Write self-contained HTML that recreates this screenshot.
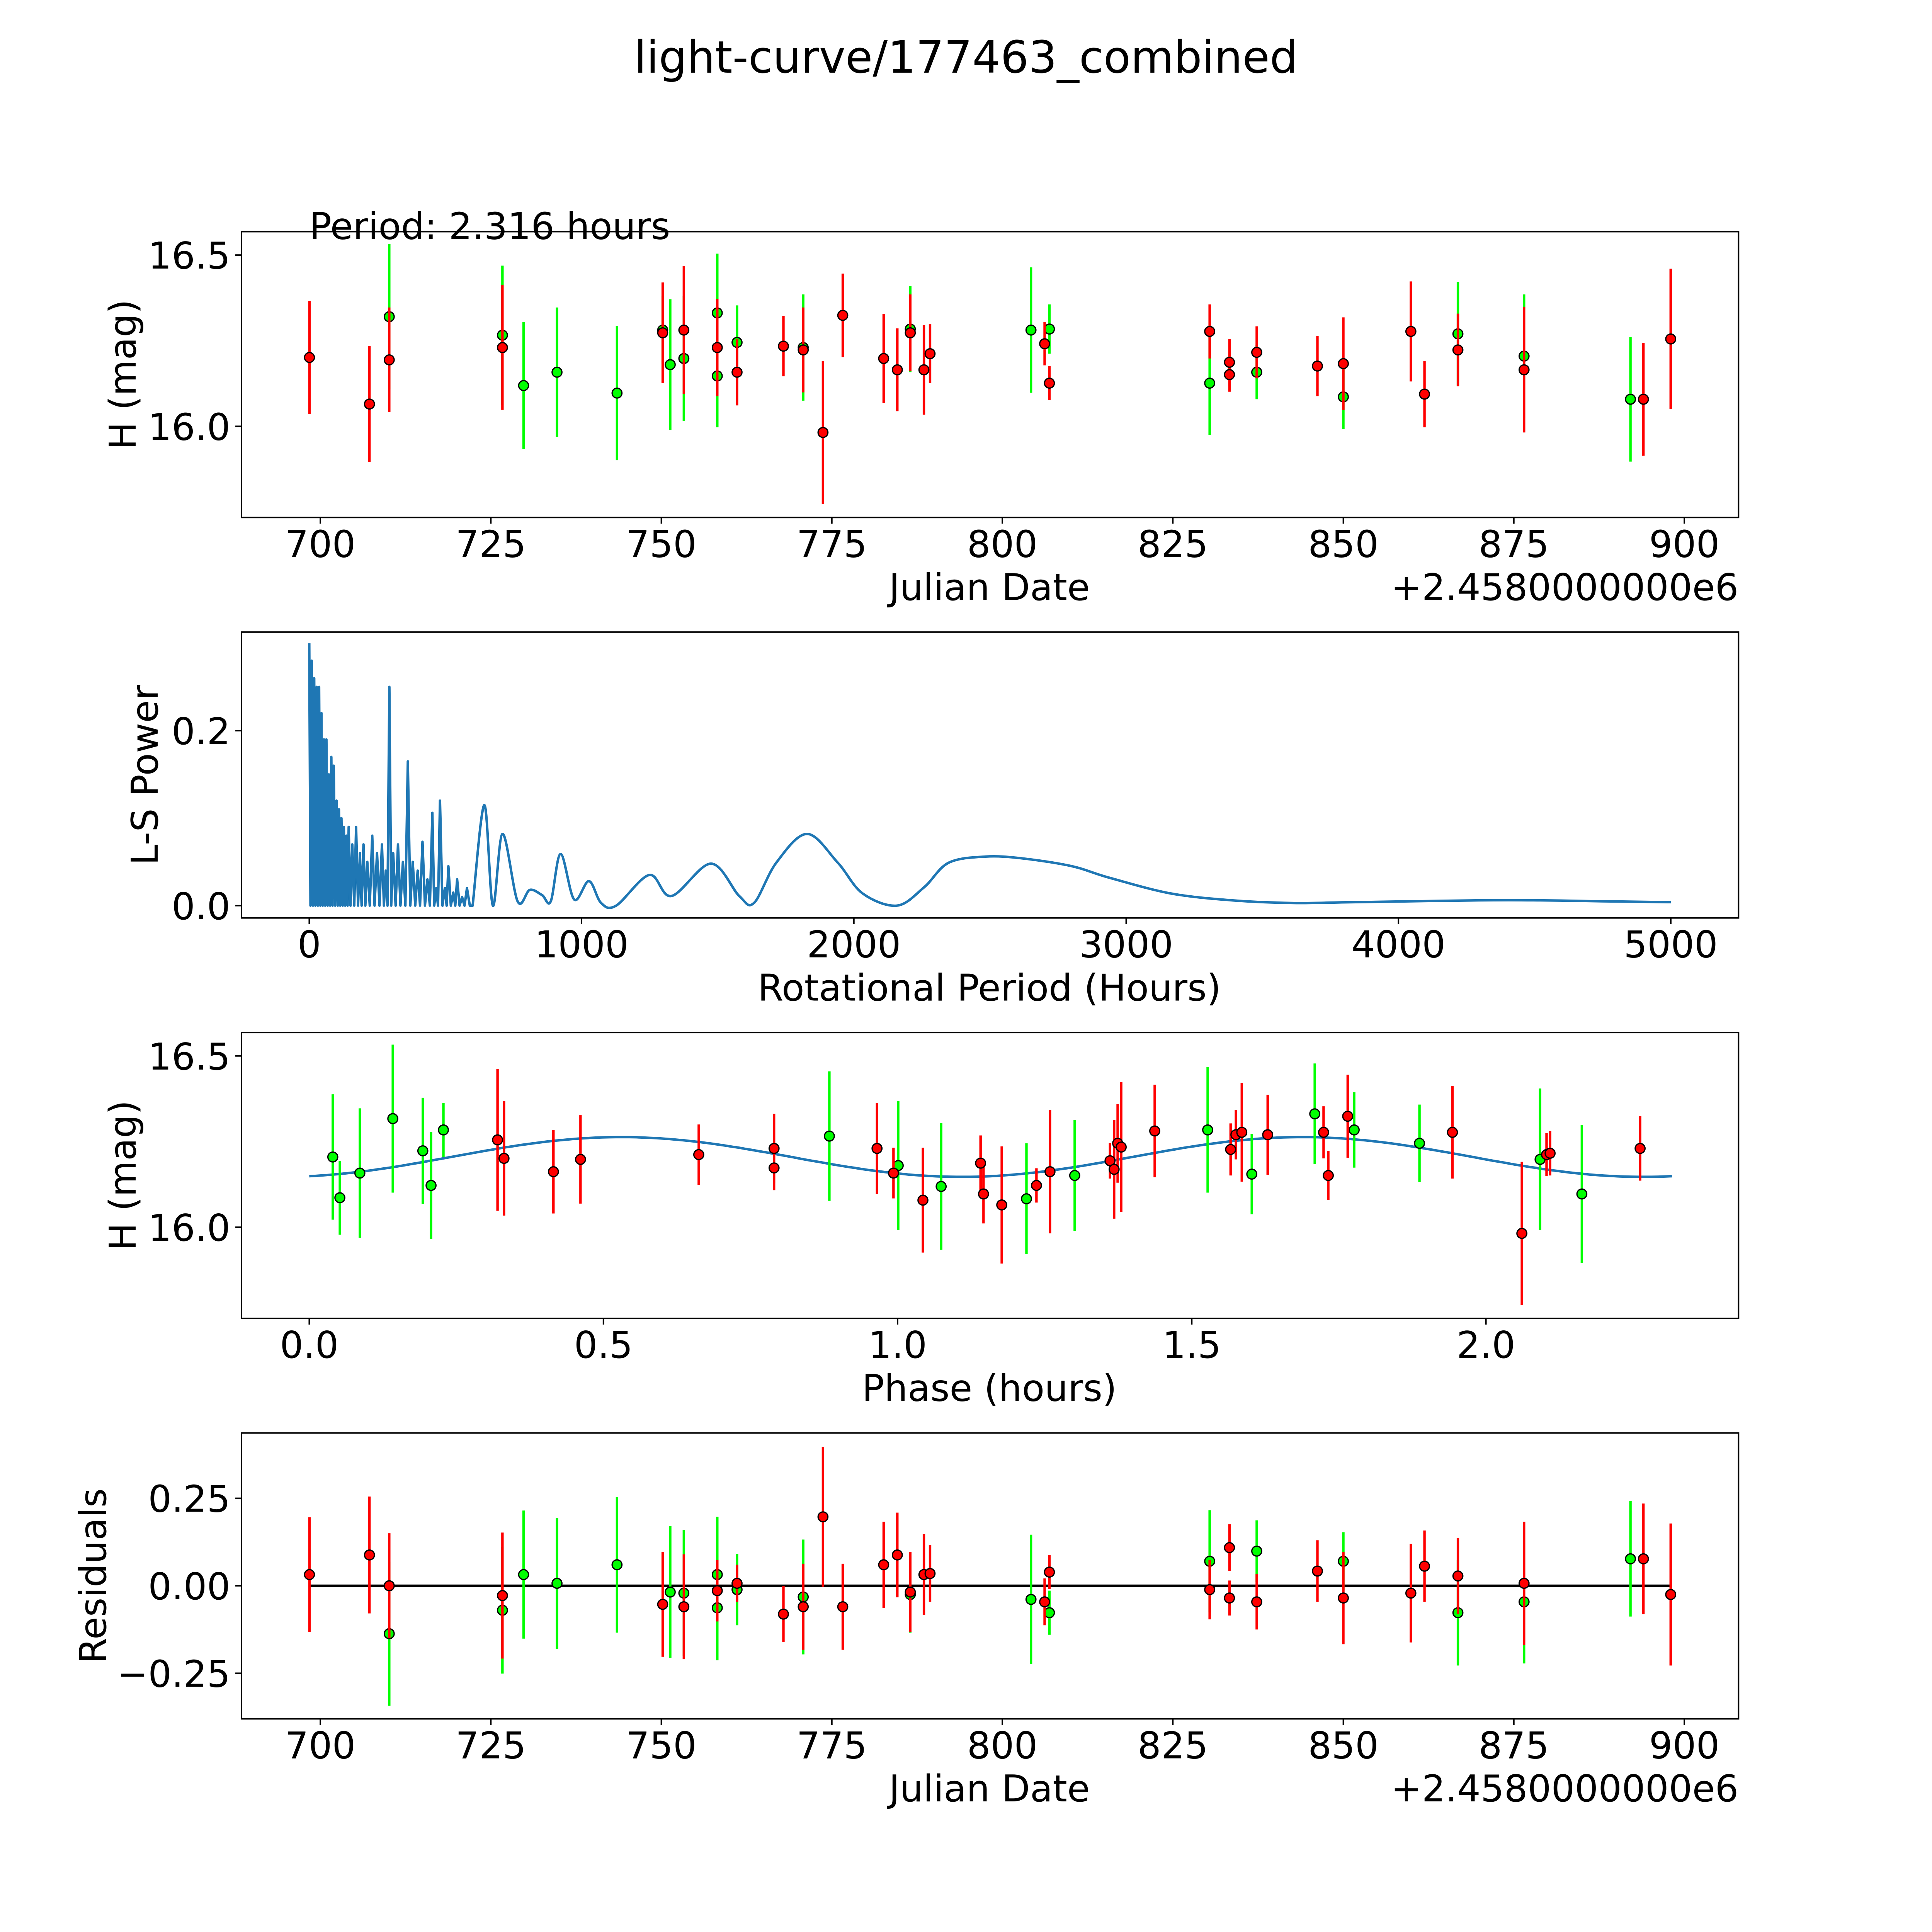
<!DOCTYPE html>
<html><head><meta charset="utf-8"><style>
html,body{margin:0;padding:0;background:#fff;overflow:hidden;width:100%;height:100%;}
svg{display:block;position:absolute;left:0;top:0;width:100vw;height:100vh;font-family:"DejaVu Sans","Liberation Sans",sans-serif;}
</style></head><body>
<svg id="fig" viewBox="0 0 1568 1568" preserveAspectRatio="none" xmlns="http://www.w3.org/2000/svg">
<rect x="0" y="0" width="1568" height="1568" fill="#fff"/>
<text x="784" y="59" font-size="36" text-anchor="middle">light-curve/177463_combined</text>
<g id="layer"></g>
</svg>
<script>
// ---------- DATA ----------
const lcRed = [[698.4,16.201,0.165],[707.2,16.065,0.169],[710.1,16.194,0.153],[726.7,16.230,0.182],[750.2,16.273,0.147],[753.3,16.281,0.187],[758.2,16.230,0.142],[761.1,16.158,0.097],[767.9,16.234,0.088],[770.8,16.223,0.124],[773.7,15.982,0.209],[776.6,16.324,0.122],[782.6,16.198,0.130],[784.6,16.165,0.121],[786.5,16.273,0.112],[788.5,16.165,0.131],[789.4,16.212,0.086],[806.2,16.241,0.063],[806.9,16.126,0.050],[830.4,16.277,0.079],[833.3,16.187,0.068],[833.3,16.151,0.050],[837.3,16.216,0.076],[846.2,16.176,0.088],[850.0,16.183,0.135],[859.9,16.277,0.146],[861.9,16.094,0.097],[866.8,16.223,0.106],[876.5,16.165,0.183],[894.0,16.079,0.165],[898.0,16.255,0.205]];
const lcGreen = [[710.1,16.320,0.212],[726.7,16.266,0.203],[729.8,16.119,0.185],[734.7,16.158,0.189],[743.5,16.097,0.196],[750.2,16.281,0.100],[751.3,16.180,0.191],[753.3,16.198,0.183],[758.2,16.331,0.173],[758.2,16.147,0.150],[761.1,16.245,0.108],[770.8,16.230,0.155],[786.5,16.284,0.126],[804.2,16.281,0.183],[806.9,16.284,0.072],[830.4,16.126,0.151],[837.3,16.158,0.079],[850.0,16.086,0.094],[866.8,16.270,0.151],[876.5,16.205,0.180],[892.1,16.079,0.182]];
const lsSpikes = [[0,.30],[9,.28],[18,.26],[27,.25],[36,.25],[45,.22],[54,.19],[63,.19],[72,.15],[81,.17],[90,.16],[100,.12],[109,.11],[118,.10],[127,.09],[136,.08],[145,.09],[158,.07],[172,.09],[186,.06],[199,.07],[213,.05],[231,.08],[249,.06],[267,.07],[281,.04],[294,.25],[308,.06],[326,.07],[344,.05],[362,.165],[380,.05],[398,.04],[416,.073],[434,.03],[452,.106],[466,.02],[480,.12],[498,.02],[511,.045],[529,.015],[543,.03],[561,.01],[579,.02]];
const lsSmooth = [[600,0],[643,.115],[674,0],[710,.082],[765,.005],[810,.018],[855,.012],[887,.005],[923,.059],[973,.007],[1027,.028],[1072,.003],[1127,0],[1249,.035],[1330,.011],[1475,.048],[1579,.011],[1633,.003],[1715,.049],[1828,.082],[1941,.049],[2032,.014],[2158,0],[2258,.021],[2348,.049],[2484,.056],[2620,.054],[2801,.045],[2937,.032],[3163,.014],[3389,.006],[3615,.003],[3842,.004],[4294,.006],[4520,.006],[4747,.005],[5000,.004]];
const phGreen = [[0.040,16.205,0.183],[0.052,16.086,0.108],[0.086,16.158,0.189],[0.142,16.317,0.216],[0.193,16.223,0.155],[0.207,16.122,0.156],[0.228,16.284,0.079],[0.884,16.266,0.189],[1.001,16.180,0.189],[1.074,16.119,0.185],[1.219,16.083,0.162],[1.301,16.151,0.162],[1.527,16.284,0.183],[1.602,16.155,0.117],[1.709,16.331,0.147],[1.776,16.284,0.110],[1.887,16.245,0.113],[2.092,16.198,0.207],[2.163,16.097,0.201]];
const phRed = [[0.320,16.255,0.207],[0.331,16.201,0.167],[0.415,16.162,0.122],[0.461,16.198,0.129],[0.662,16.212,0.088],[0.790,16.230,0.101],[0.790,16.173,0.065],[0.965,16.230,0.133],[0.993,16.158,0.074],[1.043,16.079,0.153],[1.141,16.187,0.081],[1.146,16.097,0.086],[1.177,16.065,0.171],[1.236,16.122,0.050],[1.259,16.162,0.180],[1.361,16.194,0.052],[1.368,16.169,0.144],[1.374,16.245,0.115],[1.380,16.234,0.189],[1.437,16.281,0.135],[1.566,16.227,0.076],[1.575,16.270,0.072],[1.585,16.277,0.144],[1.629,16.270,0.117],[1.724,16.277,0.076],[1.732,16.151,0.072],[1.765,16.324,0.121],[1.943,16.277,0.135],[2.061,15.982,0.209],[2.103,16.212,0.063],[2.109,16.216,0.065],[2.262,16.230,0.094]];
const fitParams = [16.205, 0.058, 0.53, 2.316];
const resRed = [[698.4,0.032,0.164],[707.2,0.088,0.167],[710.1,0.0,0.150],[726.7,-0.028,0.18],[750.2,-0.053,0.15],[753.3,-0.06,0.15],[758.2,-0.014,0.088],[761.1,0.007,0.053],[767.9,-0.081,0.08],[770.8,-0.06,0.123],[773.7,0.197,0.2],[776.6,-0.06,0.123],[782.6,0.06,0.123],[784.6,0.088,0.121],[786.5,-0.018,0.114],[788.5,0.032,0.116],[789.4,0.035,0.081],[806.2,-0.046,0.067],[806.9,0.039,0.049],[830.4,-0.011,0.085],[833.3,0.109,0.067],[833.3,-0.035,0.05],[837.3,-0.046,0.079],[846.2,0.042,0.088],[850.0,-0.035,0.132],[859.9,-0.021,0.141],[861.9,0.056,0.102],[866.8,0.028,0.109],[876.5,0.007,0.176],[894.0,0.077,0.158],[898.0,-0.025,0.203]];
const resGreen = [[710.1,-0.137,0.206],[726.7,-0.07,0.181],[729.8,0.032,0.183],[734.7,0.007,0.187],[743.5,0.06,0.194],[751.3,-0.018,0.188],[753.3,-0.021,0.18],[758.2,0.032,0.165],[758.2,-0.063,0.15],[761.1,-0.011,0.102],[770.8,-0.032,0.164],[786.5,-0.025,0.109],[804.2,-0.039,0.185],[806.9,-0.077,0.063],[830.4,0.070,0.146],[837.3,0.099,0.088],[850.0,0.07,0.083],[866.8,-0.077,0.151],[876.5,-0.046,0.176],[892.1,0.077,0.165]];
const jdTicks = [700,725,750,775,800,825,850,875,900];
const lcYTicks = [16.0,16.5];
const lsXTicks = [0,1000,2000,3000,4000,5000];
const lsYTicks = [0.0,0.2];
const phXTicks = [0.0,0.5,1.0,1.5,2.0];
const resYTicks = [-0.25,0.00,0.25];

// ---------- DRAWING ----------
const NS = "http://www.w3.org/2000/svg";
const layer = document.getElementById('layer');
function el(tag, attrs, parent, txt) {
  const e = document.createElementNS(NS, tag);
  for (const k in attrs) e.setAttribute(k, attrs[k]);
  if (txt !== undefined) e.textContent = txt;
  (parent || layer).appendChild(e);
  return e;
}
const xJD = v => 260 + (v - 700) * 5.535;
const yLC = v => 346 - (v - 16) * 278;
const xLS = v => 251 + v * 0.221;
const yLS = v => 735 - v * 710;
const xPH = v => 251 + v * 477.5;
const yPH = v => 996 - (v - 16) * 278;
const yRS = v => 1287 - v * 284;
const FS = 30;

function axes(name, top, xTicks, xs, xfmt, yTicks, ys, yfmt, xlabel, ylabel, ylabelX) {
  const g = el('g', {});
  
  
  const L = 196, B = top + 232;
  for (const t of xTicks) {
    const x = xs(t);
    const tk = el('line', {x1: x, x2: x, y1: B, y2: B + 5, stroke: '#000', 'stroke-width': 1.2}, g);
    
    
    const lb = el('text', {x: x, y: B + 32, 'font-size': FS, 'text-anchor': 'middle'}, g, xfmt(t));
    
    
  }
  for (const t of yTicks) {
    const y = ys(t);
    const tk = el('line', {x1: L - 5, x2: L, y1: y, y2: y, stroke: '#000', 'stroke-width': 1.2}, g);
    
    
    const lb = el('text', {x: L - 9, y: y + 11, 'font-size': FS, 'text-anchor': 'end'}, g, yfmt(t));
    
    
  }
  const xl = el('text', {x: 803, y: B + 67, 'font-size': FS, 'text-anchor': 'middle'}, g, xlabel);
  
  
  const yl = el('text', {x: ylabelX, y: top + 116, 'font-size': FS, 'text-anchor': 'middle', transform: `rotate(-90 ${ylabelX} ${top + 116})`}, g, ylabel);
  
  
  return g;
}
function frame(top) {
  const r = el('rect', {x: 196, y: top, width: 1215, height: 232, fill: 'none', stroke: '#000', 'stroke-width': 1.2});
  
  
}
function errPoints(data, xs, ys, color, name) {
  const g = el('g', {});
  
  
  for (const d of data) {
    const x = xs(d[0]);
    const eb = el('line', {x1: x, x2: x, y1: ys(d[1] + d[2]), y2: ys(d[1] - d[2]), stroke: color, 'stroke-width': 2}, g);
    
    
  }
  for (const d of data) {
    const c = el('circle', {cx: xs(d[0]), cy: ys(d[1]), r: 4, fill: color, stroke: '#000', 'stroke-width': 1}, g);
    
    
  }
}
const f1 = v => v.toFixed(1);
const f0 = v => String(v);
const f2 = v => (v < 0 ? '\u2212' + Math.abs(v).toFixed(2) : v.toFixed(2));

// Panel 1
axes('light-curve-axes', 188, jdTicks, xJD, f0, lcYTicks, yLC, f1, 'Julian Date', 'H (mag)', 110);
errPoints(lcGreen, xJD, yLC, '#00ff00', 'green-series');
errPoints(lcRed, xJD, yLC, '#ff0000', 'red-series');
frame(188);
let t = el('text', {x: 251, y: 194, 'font-size': FS}, layer, 'Period: 2.316 hours');


t = el('text', {x: 1411, y: 487, 'font-size': FS, 'text-anchor': 'end'}, layer, '+2.4580000000e6');



// Panel 2
axes('periodogram-axes', 513, lsXTicks, xLS, f0, lsYTicks, yLS, f1, 'Rotational Period (Hours)', 'L-S Power', 128);
let dd = '';
for (let i = 0; i < lsSpikes.length; i++) {
  const p = lsSpikes[i];
  const x = xLS(p[0]), y = yLS(p[1]);
  dd += (i === 0 ? 'M' : 'L') + x.toFixed(1) + ',' + y.toFixed(1);
  const nx = i + 1 < lsSpikes.length ? xLS((p[0] + lsSpikes[i + 1][0]) / 2) : xLS((p[0] + lsSmooth[0][0]) / 2);
  dd += 'L' + nx.toFixed(1) + ',' + yLS(0).toFixed(1);
}
const pts = lsSmooth.map(p => [xLS(p[0]), yLS(p[1])]);
dd += 'L' + pts[0][0].toFixed(1) + ',' + pts[0][1].toFixed(1);
for (let i = 0; i < pts.length - 1; i++) {
  const p0 = pts[Math.max(0, i - 1)], p1 = pts[i], p2 = pts[i + 1], p3 = pts[Math.min(pts.length - 1, i + 2)];
  const c1x = p1[0] + (p2[0] - p0[0]) / 6, c1y = p1[1] + (p2[1] - p0[1]) / 6;
  const c2x = p2[0] - (p3[0] - p1[0]) / 6, c2y = p2[1] - (p3[1] - p1[1]) / 6;
  dd += `C${c1x.toFixed(1)},${c1y.toFixed(1)} ${c2x.toFixed(1)},${c2y.toFixed(1)} ${p2[0].toFixed(1)},${p2[1].toFixed(1)}`;
}
const ls = el('path', {d: dd, fill: 'none', stroke: '#1f77b4', 'stroke-width': 2, 'stroke-linejoin': 'round'});


frame(513);

// Panel 3
axes('phase-axes', 838, phXTicks, xPH, f1, lcYTicks, yPH, f1, 'Phase (hours)', 'H (mag)', 110);
let fd = '';
for (let i = 0; i <= 200; i++) {
  const ph = fitParams[3] * i / 200;
  const v = fitParams[0] + fitParams[1] * Math.cos(4 * Math.PI * (ph - fitParams[2]) / fitParams[3]);
  fd += (i ? 'L' : 'M') + xPH(ph).toFixed(1) + ',' + yPH(v).toFixed(1);
}
const fit = el('path', {d: fd, fill: 'none', stroke: '#1f77b4', 'stroke-width': 2});


errPoints(phGreen, xPH, yPH, '#00ff00', 'green-phase-series');
errPoints(phRed, xPH, yPH, '#ff0000', 'red-phase-series');
frame(838);

// Panel 4
axes('residual-axes', 1163, jdTicks, xJD, f0, resYTicks, yRS, f2, 'Julian Date', 'Residuals', 86);
const zl = el('line', {x1: xJD(698.4), x2: xJD(898.0), y1: yRS(0), y2: yRS(0), stroke: '#000', 'stroke-width': 2});


errPoints(resGreen, xJD, yRS, '#00ff00', 'green-residual-series');
errPoints(resRed, xJD, yRS, '#ff0000', 'red-residual-series');
frame(1163);
t = el('text', {x: 1411, y: 1462, 'font-size': FS, 'text-anchor': 'end'}, layer, '+2.4580000000e6');


</script>
</body></html>
